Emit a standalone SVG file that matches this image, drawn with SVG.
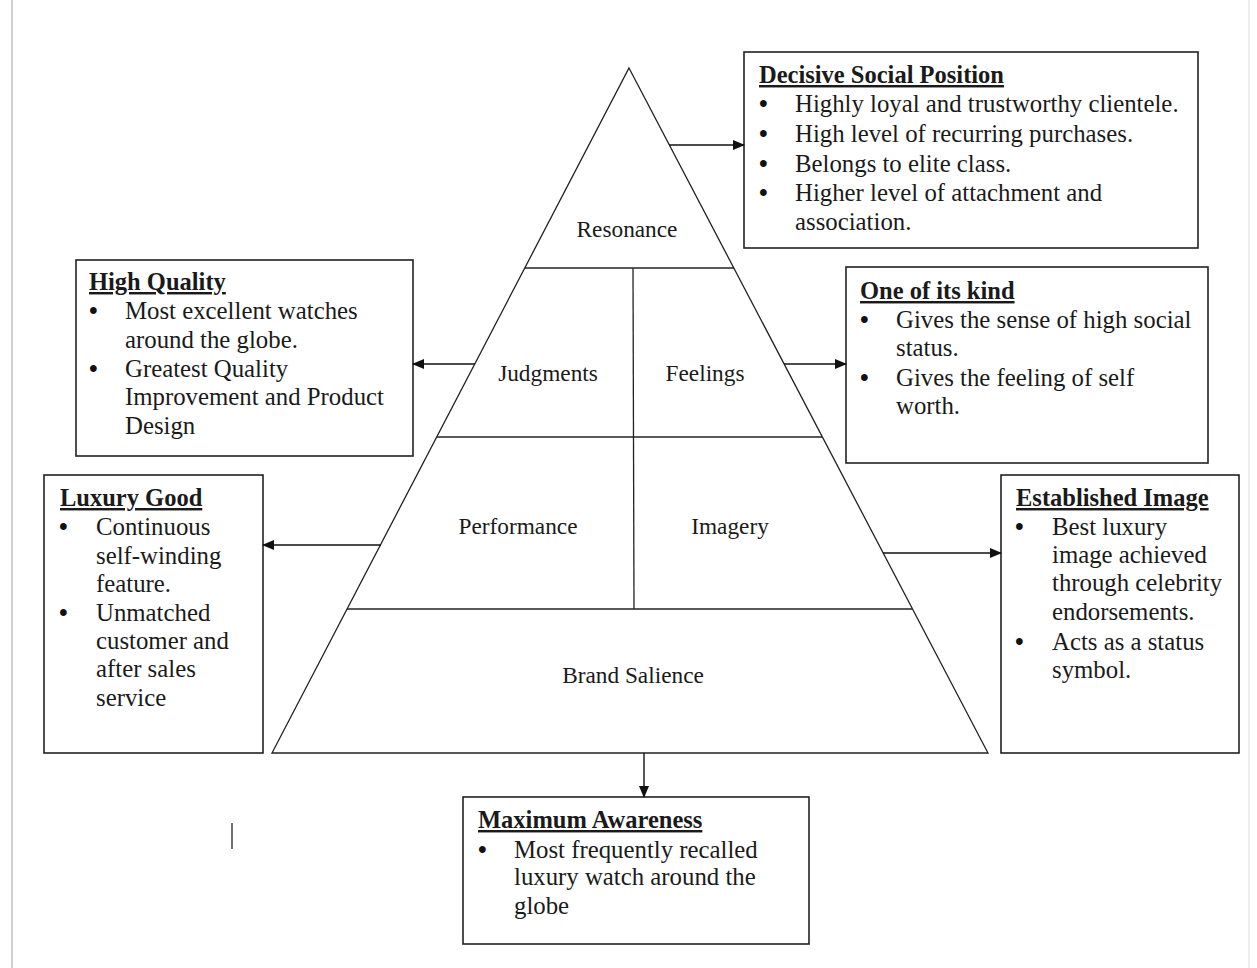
<svg xmlns="http://www.w3.org/2000/svg" width="1257" height="968" viewBox="0 0 1257 968">
<style>
.bx{fill:#fff;stroke:#222;stroke-width:1.6}
.pl{fill:none;stroke:#222;stroke-width:1.3}
.t{font-family:"Liberation Serif","Times New Roman",serif;font-size:24.8px;fill:#1a1a1a}
.b{font-family:"Liberation Serif","Times New Roman",serif;font-size:24.8px;font-weight:bold;fill:#111}
.h{font-family:"Liberation Serif","Times New Roman",serif;font-size:24.5px;font-weight:bold;fill:#1a1a1a;text-decoration:underline}
.p{font-family:"Liberation Serif","Times New Roman",serif;font-size:23.3px;fill:#1a1a1a;text-anchor:middle}
.c{stroke:#111;stroke-width:1.4;fill:none;marker-end:url(#ah)}
</style>
<defs>
<marker id="ah" markerWidth="12" markerHeight="10" refX="11" refY="5" orient="auto" markerUnits="userSpaceOnUse">
<path d="M0,0 L12,5 L0,10 Z" fill="#111"/>
</marker>
</defs>
<rect width="1257" height="968" fill="#fff"/>
<line x1="12" y1="0" x2="12" y2="968" stroke="#d0d0d0" stroke-width="2"/>
<line x1="1249" y1="0" x2="1249" y2="968" stroke="#ececec" stroke-width="2"/>
<line x1="232" y1="823" x2="232" y2="849" stroke="#111" stroke-width="1.2"/>

<g id="pyramid">
<polygon class="pl" points="629,68 988,753 272,753"/>
<line class="pl" x1="525" y1="268" x2="734" y2="268"/>
<line class="pl" x1="437" y1="437" x2="822" y2="437"/>
<line class="pl" x1="347" y1="609" x2="912" y2="609"/>
<line class="pl" x1="633" y1="268" x2="634" y2="609"/>
<text class="p" x="627" y="237">Resonance</text>
<text class="p" x="548" y="381">Judgments</text>
<text class="p" x="705" y="381">Feelings</text>
<text class="p" x="518" y="534">Performance</text>
<text class="p" x="730" y="534">Imagery</text>
<text class="p" x="633" y="683">Brand Salience</text>
</g>

<g id="decisive">
<rect class="bx" x="744" y="52" width="454" height="196"/>
<text class="h" x="759" y="83">Decisive Social Position</text>
<text class="b" x="759" y="112">•</text><text class="t" x="795" y="112">Highly loyal and trustworthy clientele.</text>
<text class="b" x="759" y="142">•</text><text class="t" x="795" y="142">High level of recurring purchases.</text>
<text class="b" x="759" y="172">•</text><text class="t" x="795" y="172">Belongs to elite class.</text>
<text class="b" x="759" y="201">•</text><text class="t" x="795" y="201">Higher level of attachment and</text>
<text class="t" x="795" y="230">association.</text>
</g>

<g id="highquality">
<rect class="bx" x="76" y="260" width="337" height="196"/>
<text class="h" x="89" y="290">High Quality</text>
<text class="b" x="89" y="319">•</text><text class="t" x="125" y="319">Most excellent watches</text>
<text class="t" x="125" y="348">around the globe.</text>
<text class="b" x="89" y="377">•</text><text class="t" x="125" y="377">Greatest Quality</text>
<text class="t" x="125" y="405">Improvement and Product</text>
<text class="t" x="125" y="434">Design</text>
</g>

<g id="oneofitskind">
<rect class="bx" x="846" y="267" width="362" height="196"/>
<text class="h" x="860" y="299">One of its kind</text>
<text class="b" x="860" y="328">•</text><text class="t" x="896" y="328">Gives the sense of high social</text>
<text class="t" x="896" y="356">status.</text>
<text class="b" x="860" y="386">•</text><text class="t" x="896" y="386">Gives the feeling of self</text>
<text class="t" x="896" y="414">worth.</text>
</g>

<g id="luxurygood">
<rect class="bx" x="44" y="475" width="219" height="278"/>
<text class="h" x="60" y="506">Luxury Good</text>
<text class="b" x="59" y="535">•</text><text class="t" x="96" y="535">Continuous</text>
<text class="t" x="96" y="564">self-winding</text>
<text class="t" x="96" y="592">feature.</text>
<text class="b" x="59" y="621">•</text><text class="t" x="96" y="621">Unmatched</text>
<text class="t" x="96" y="649">customer and</text>
<text class="t" x="96" y="677">after sales</text>
<text class="t" x="96" y="706">service</text>
</g>

<g id="establishedimage">
<rect class="bx" x="1001" y="475" width="238" height="278"/>
<text class="h" x="1016" y="506">Established Image</text>
<text class="b" x="1015" y="535">•</text><text class="t" x="1052" y="535">Best luxury</text>
<text class="t" x="1052" y="563">image achieved</text>
<text class="t" x="1052" y="591">through celebrity</text>
<text class="t" x="1052" y="620">endorsements.</text>
<text class="b" x="1015" y="650">•</text><text class="t" x="1052" y="650">Acts as a status</text>
<text class="t" x="1052" y="678">symbol.</text>
</g>

<g id="maxawareness">
<rect class="bx" x="463" y="797" width="346" height="147"/>
<text class="h" x="478" y="828">Maximum Awareness</text>
<text class="b" x="478" y="858">•</text><text class="t" x="514" y="858">Most frequently recalled</text>
<text class="t" x="514" y="885">luxury watch around the</text>
<text class="t" x="514" y="914">globe</text>
</g>

<g id="connectors">
<line class="c" x1="669" y1="145" x2="744" y2="145"/>
<line class="c" x1="475" y1="364" x2="413" y2="364"/>
<line class="c" x1="784" y1="364" x2="846" y2="364"/>
<line class="c" x1="381" y1="545" x2="263" y2="545"/>
<line class="c" x1="883" y1="553" x2="1001" y2="553"/>
<line class="c" x1="644" y1="753" x2="644" y2="797"/>
</g>
</svg>
